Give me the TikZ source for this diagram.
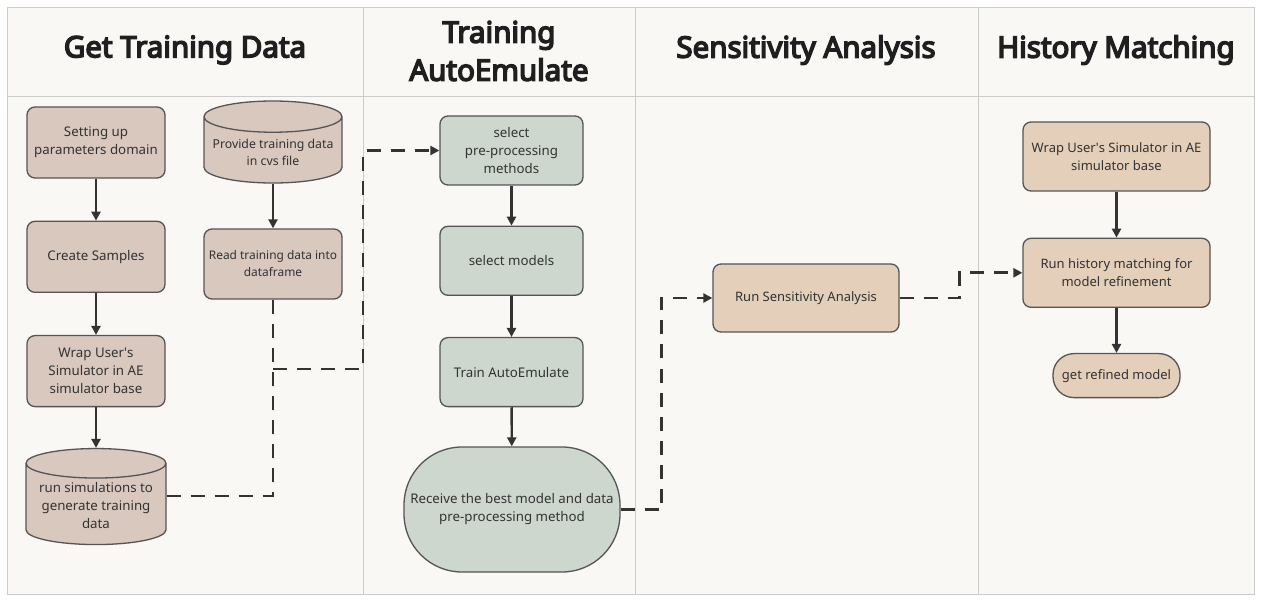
\documentclass[tikz,border=0pt]{standalone}
\usepackage{fontspec}
\setmainfont{Noto Sans}
\newfontfamily\headfont{Noto Sans}[FakeBold=5]
\usetikzlibrary{
    positioning,
    arrows.meta,
    shapes.geometric,
    shapes.misc
  }
\definecolor{paper}{HTML}{F9F8F5}
\definecolor{rule}{HTML}{CCCCCC}
\definecolor{edge}{HTML}{555555}
\definecolor{ink}{HTML}{333333}
\definecolor{clay}{HTML}{D8C8BE}
\definecolor{sage}{HTML}{CDD7CD}
\definecolor{sand}{HTML}{E4CFBA}
\tikzstyle{head}=[font=\headfont\fontsize{29.5}{38}\selectfont, text=black!88, align=center]
\tikzstyle{box}=[draw=edge, line width=1.3pt, rounded corners=8pt, align=center,
  font=\fontsize{13.3}{18}\selectfont, text=ink, minimum width=138pt, minimum height=71pt, inner sep=2pt]
\tikzstyle{drum}=[cylinder, shape border rotate=90, aspect=0.25, draw=edge, line width=1.3pt,
  align=center, font=\fontsize{13.3}{18}\selectfont, text=ink, inner sep=2pt]
\tikzstyle{link}=[-{Triangle[length=9pt,width=9pt]}, line width=2.4pt, draw=ink]
\tikzstyle{flow}=[line width=2.8pt, draw=ink, dash pattern=on 14pt off 10pt]

\begin{document}
\begin{tikzpicture}[x=1pt,y=-1pt,node distance=42pt]
\useasboundingbox (0,0) rectangle (1263,601);
\fill[white] (0,0) rectangle (1263,601);
% lanes
\draw[rule, fill=paper] (7,7) rectangle (1254,594);
\draw[rule] (7,96) -- (1254,96);
\foreach \x in {363,635,978}
  \draw[rule] (\x,7) -- (\x,594);
\node[head] (hdata) at (185,50) {Get Training Data};
\node[head] (htrain) at (499,51) {Training\\AutoEmulate};
\node[head] (hsens) at (806,50) {Sensitivity Analysis};
\node[head] (hhist) at (1116,50) {History Matching};
% get training data
\node[box, fill=clay] (setup) at (96,142.5) {Setting up\\parameters domain};
\node[box, fill=clay, below=of setup] (samples) {Create Samples};
\node[box, fill=clay, below=of samples] (wrap) {Wrap User\textquotesingle s\\Simulator in AE\\simulator base};
\node[drum, fill=clay, minimum width=140pt, minimum height=96pt] (runsim) at (96,506)
  {run simulations to\\generate training\\data};
\node[drum, fill=clay, minimum width=138pt, minimum height=82pt, font=\fontsize{12.3}{17}\selectfont] (provide) at (273,152)
  {Provide training data\\in cvs file};
\node[box, fill=clay, minimum height=70pt, font=\fontsize{11.9}{17}\selectfont] (readin) at (273,264)
  {Read training data into\\dataframe};
% training autoemulate
\node[box, fill=sage, minimum width=143pt, minimum height=69pt] (prep) at (511.5,150.5)
  {select\\pre-processing\\methods};
\node[box, fill=sage, minimum width=143pt, minimum height=69pt, below=40pt of prep] (models) {select models};
\node[box, fill=sage, minimum width=143pt, minimum height=69pt, below=41pt of models] (trainae) {Train AutoEmulate};
\node[box, fill=sage, minimum width=216pt, minimum height=125pt, rounded corners=58pt] (best) at (512,509.5)
  {Receive the best model and data\\pre-processing method};
% sensitivity analysis
\node[box, fill=sand, minimum width=186pt, minimum height=68pt, font=\fontsize{13}{18}\selectfont] (sens) at (806,298)
  {Run Sensitivity Analysis};
% history matching
\node[box, fill=sand, minimum width=187pt, minimum height=69pt, font=\fontsize{13}{18}\selectfont] (hwrap) at (1116.5,156.5)
  {Wrap User\textquotesingle s Simulator in AE\\simulator base};
\node[box, fill=sand, minimum width=187pt, minimum height=69pt, font=\fontsize{13}{18}\selectfont, below=46pt of hwrap] (hmatch)
  {Run history matching for\\model refinement};
\node[box, fill=sand, minimum width=127pt, minimum height=44pt, rounded corners=21pt, font=\fontsize{13}{18}\selectfont, below=45pt of hmatch] (refined)
  {get refined model};
% solid arrows
\draw[link] (setup) -- (samples);
\draw[link] (samples) -- (wrap);
\draw[link] (wrap) -- (runsim);
\draw[link] (provide) -- (readin);
\draw[link] (prep) -- (models);
\draw[link] (models) -- (trainae);
\draw[link] (trainae) -- (best);
\draw[link] (hwrap) -- (hmatch);
\draw[link] (hmatch) -- (refined);
% dashed hand-overs
\coordinate (merge) at (273,369);
\coordinate (lane) at (363,369);
\draw[flow] ([yshift=10pt]runsim.east) -| (merge);
\draw[flow] (readin.south) -- (merge);
\draw[flow, -{Triangle[length=9pt,width=9pt]}] (merge) -- (lane) |- (prep.west);
\draw[flow, -{Triangle[length=9pt,width=9pt]}] (best.east) -- ++(41,0) |- (sens.west);
\draw[flow, -{Triangle[length=9pt,width=9pt]}] (sens.east) -- ++(60,0) |- (hmatch.west);
\end{tikzpicture}
\end{document}
